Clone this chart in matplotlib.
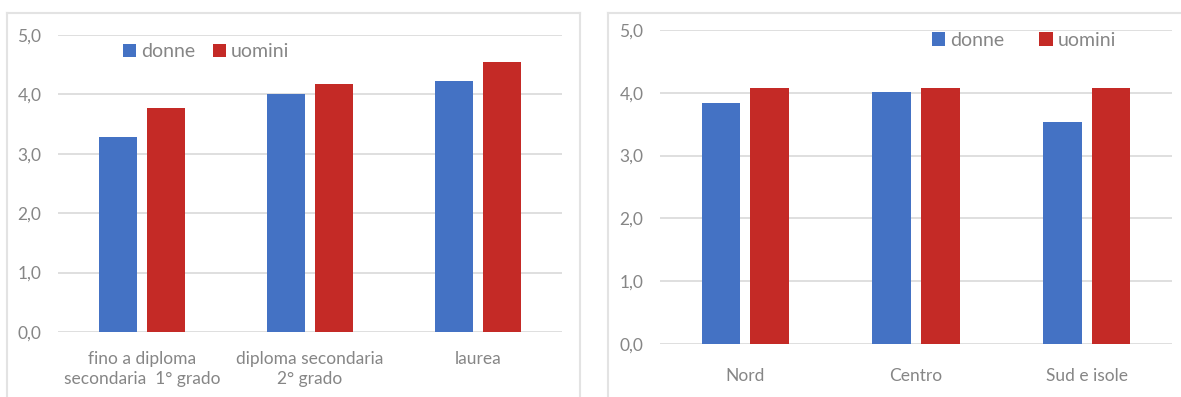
import numpy as np
import matplotlib
matplotlib.use('Agg')
import matplotlib.pyplot as plt
from matplotlib.ticker import FuncFormatter
from matplotlib.lines import Line2D

plt.rcParams['font.family'] = ['Lato', 'DejaVu Sans']

# titolo di studio
istruzione = ['fino a diploma\nsecondaria  1° grado', 'diploma secondaria\n2° grado', 'laurea']
donne_istr = [3.28, 4.00, 4.23]
uomini_istr = [3.77, 4.17, 4.55]

# ripartizione geografica
area = ['Nord', 'Centro', 'Sud e isole']
donne_area = [3.83, 4.02, 3.53]
uomini_area = [4.07, 4.08, 4.08]

blu = '#4472c4'
rosso = '#c42a26'
grigio = '#868686'
griglia = '#d9d9d9'

W, H = 1181, 397
fig = plt.figure(figsize=(W / 100, H / 100), dpi=100)


def px(x0, y0, x1, y1):
    # rettangolo in pixel (origine in alto) -> coordinate figura
    return [x0 / W, 1 - y1 / H, (x1 - x0) / W, (y1 - y0) / H]


def grafico(ax, cats, donne, uomini, leg_xy, colsp, xpad):
    x = np.arange(len(cats))
    w = 0.226
    off = 0.143
    ax.bar(x - off, donne, width=w, color=blu, label='donne', zorder=3)
    ax.bar(x + off, uomini, width=w, color=rosso, label='uomini', zorder=3)
    ax.set_xlim(-0.5, len(cats) - 0.5)
    ax.set_ylim(0, 5)
    ax.set_yticks(np.arange(0, 5.1, 1))
    ax.yaxis.set_major_formatter(FuncFormatter(lambda v, p: f'{v:.1f}'.replace('.', ',')))
    ax.set_xticks(x)
    ax.set_xticklabels(cats, linespacing=1.25)
    for s in ax.spines.values():
        s.set_visible(False)
    ax.grid(axis='y', color=griglia, linewidth=1.2, zorder=0)
    ax.tick_params(axis='both', length=0, colors=grigio, labelsize=12.5)
    ax.tick_params(axis='y', pad=12)
    ax.tick_params(axis='x', pad=xpad)
    leg = ax.legend(loc='center left', bbox_to_anchor=leg_xy, ncol=2, frameon=False,
                    handlelength=0.7, handleheight=0.7, handletextpad=0.25,
                    columnspacing=colsp, borderaxespad=0, borderpad=0, fontsize=14)
    for t in leg.get_texts():
        t.set_color(grigio)


ax1 = fig.add_axes(px(58, 35, 562, 332))
grafico(ax1, istruzione, donne_istr, uomini_istr, (0.128, 0.943), 0.9, 14)

ax2 = fig.add_axes(px(660, 30, 1172, 344))
grafico(ax2, area, donne_area, uomini_area, (0.531, 0.968), 1.8, 17)

# cornici dei due pannelli
bordo = '#e3e3e3'
for xs, ys in [([7, 7], [397, 13]), ([7, 580], [13, 13]), ([580, 580], [13, 397]),
               ([608, 608], [397, 13]), ([608, 1181], [13, 13])]:
    fig.add_artist(Line2D([v / W for v in xs], [1 - v / H for v in ys],
                          color=bordo, linewidth=1.5))

fig.savefig('out.png', dpi=100)
